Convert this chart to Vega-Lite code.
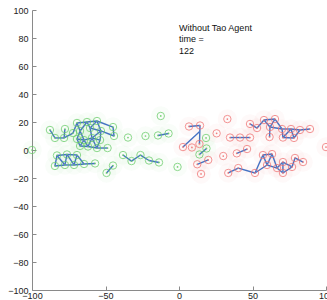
{
  "$schema": "https://vega.github.io/schema/vega-lite/v6.json",
  "width": 294,
  "height": 280,
  "autosize": "none",
  "padding": {"left": 32, "top": 10, "right": 1, "bottom": 10},
  "background": "white",
  "config": {
    "view": {"stroke": null},
    "font": "Liberation Sans",
    "axis": {
      "grid": false,
      "domainColor": "#8a8a8a",
      "tickColor": "#8a8a8a",
      "tickSize": -4,
      "labelFont": "Liberation Sans",
      "labelFontSize": 9,
      "labelColor": "#222",
      "labelFlush": false,
      "labelOverlap": false,
      "title": null
    }
  },
  "datasets": {
    "nodes": [
      {"c":"g","x":-87.8,"y":14.3},{"c":"g","x":-84.4,"y":8.6},{"c":"g","x":-77.6,"y":15},{"c":"g","x":-78.2,"y":8.6},
      {"c":"g","x":-72.1,"y":12.1},{"c":"g","x":-69.4,"y":19.3},{"c":"g","x":-62.6,"y":20},{"c":"g","x":-55.8,"y":20.7},
      {"c":"g","x":-67.3,"y":13.6},{"c":"g","x":-60.5,"y":15.7},{"c":"g","x":-53.1,"y":13.6},{"c":"g","x":-69.4,"y":7.9},
      {"c":"g","x":-64.6,"y":7.1},{"c":"g","x":-59.2,"y":8.6},{"c":"g","x":-53.7,"y":7.1},{"c":"g","x":-67.3,"y":2.9},
      {"c":"g","x":-61.9,"y":2.5},{"c":"g","x":-55.8,"y":1.4},{"c":"g","x":-48.6,"y":1.4},{"c":"g","x":-44.9,"y":16.4},
      {"c":"g","x":-44.2,"y":10},
      {"c":"g","x":-83,"y":-3.9},{"c":"g","x":-76.2,"y":-3.2},{"c":"g","x":-69.4,"y":-3.6},{"c":"g","x":-84.4,"y":-11.4},
      {"c":"g","x":-77.6,"y":-10.7},{"c":"g","x":-71.4,"y":-10.7},{"c":"g","x":-64.6,"y":-10},{"c":"g","x":-57.1,"y":-9.6},
      {"c":"g","x":-49.3,"y":-16.4},{"c":"g","x":-44.9,"y":-11.1},
      {"c":"g","x":-38.1,"y":-3.6},{"c":"g","x":-32.3,"y":-7.9},{"c":"g","x":-26.2,"y":-3.6},{"c":"g","x":-20.4,"y":-7.5},{"c":"g","x":-13.6,"y":-8.9},
      {"c":"g","x":-34.7,"y":8.9},{"c":"g","x":-22.8,"y":10},{"c":"g","x":-14.3,"y":10.4},{"c":"g","x":-7.1,"y":11.8},
      {"c":"g","x":-12.4,"y":24.3},{"c":"g","x":-1,"y":-12.1},{"c":"g","x":-100,"y":0},
      {"c":"g","x":18.4,"y":8.6},{"c":"g","x":18.7,"y":1.1},{"c":"g","x":13.9,"y":-3.2},
      {"c":"r","x":6.8,"y":16.8},{"c":"r","x":14.3,"y":17.5},{"c":"r","x":2.7,"y":2.1},{"c":"r","x":8.8,"y":1.8},{"c":"r","x":13.9,"y":4.3},
      {"c":"r","x":32.9,"y":22.1},{"c":"r","x":25.6,"y":11.9},{"c":"r","x":34.7,"y":8.9},{"c":"r","x":41.5,"y":8.9},{"c":"r","x":48.3,"y":8.9},
      {"c":"r","x":12.4,"y":-10.2},{"c":"r","x":19.9,"y":-7.1},{"c":"r","x":15,"y":-17.1},{"c":"r","x":30.1,"y":-4.3},
      {"c":"r","x":39.3,"y":-2.4},{"c":"r","x":46.3,"y":0.7},{"c":"r","x":33.5,"y":-16.4},
      {"c":"r","x":48.3,"y":18.6},{"c":"r","x":53.1,"y":15.7},{"c":"r","x":57.8,"y":21.4},{"c":"r","x":65.3,"y":22.1},
      {"c":"r","x":61.9,"y":16.4},{"c":"r","x":61.6,"y":9.3},{"c":"r","x":70.1,"y":15},{"c":"r","x":70.7,"y":8.9},
      {"c":"r","x":76.2,"y":15},{"c":"r","x":78.2,"y":8.6},{"c":"r","x":82.3,"y":14.3},{"c":"r","x":89.1,"y":15},
      {"c":"r","x":40.3,"y":-12.9},{"c":"r","x":51.7,"y":-16.4},{"c":"r","x":57.1,"y":-3.6},{"c":"r","x":63.3,"y":-2.9},
      {"c":"r","x":59.9,"y":-10.7},{"c":"r","x":66.7,"y":-12.9},{"c":"r","x":70.7,"y":-8.6},{"c":"r","x":70.7,"y":-16.4},
      {"c":"r","x":76.9,"y":-12.1},{"c":"r","x":78.9,"y":-5.7},{"c":"r","x":84.4,"y":-8.6},
      {"c":"r","x":100,"y":2.1}
    ],
    "edges": [
      {"e":1,"x":-87.8,"y":14.3},{"e":1,"x":-84.4,"y":8.6},
      {"e":2,"x":-84.4,"y":8.6},{"e":2,"x":-78.2,"y":8.6},
      {"e":3,"x":-77.6,"y":15},{"e":3,"x":-78.2,"y":8.6},
      {"e":4,"x":-78.2,"y":8.6},{"e":4,"x":-72.1,"y":12.1},
      {"e":5,"x":-72.1,"y":12.1},{"e":5,"x":-69.4,"y":19.3},
      {"e":6,"x":-69.4,"y":19.3},{"e":6,"x":-62.6,"y":20},
      {"e":7,"x":-62.6,"y":20},{"e":7,"x":-55.8,"y":20.7},
      {"e":8,"x":-69.4,"y":19.3},{"e":8,"x":-67.3,"y":13.6},
      {"e":9,"x":-62.6,"y":20},{"e":9,"x":-67.3,"y":13.6},
      {"e":10,"x":-62.6,"y":20},{"e":10,"x":-60.5,"y":15.7},
      {"e":11,"x":-55.8,"y":20.7},{"e":11,"x":-60.5,"y":15.7},
      {"e":12,"x":-55.8,"y":20.7},{"e":12,"x":-53.1,"y":13.6},
      {"e":13,"x":-60.5,"y":15.7},{"e":13,"x":-53.1,"y":13.6},
      {"e":14,"x":-67.3,"y":13.6},{"e":14,"x":-69.4,"y":7.9},
      {"e":15,"x":-67.3,"y":13.6},{"e":15,"x":-64.6,"y":7.1},
      {"e":16,"x":-69.4,"y":7.9},{"e":16,"x":-64.6,"y":7.1},
      {"e":17,"x":-60.5,"y":15.7},{"e":17,"x":-59.2,"y":8.6},
      {"e":18,"x":-64.6,"y":7.1},{"e":18,"x":-59.2,"y":8.6},
      {"e":19,"x":-53.1,"y":13.6},{"e":19,"x":-59.2,"y":8.6},
      {"e":20,"x":-53.1,"y":13.6},{"e":20,"x":-53.7,"y":7.1},
      {"e":21,"x":-59.2,"y":8.6},{"e":21,"x":-53.7,"y":7.1},
      {"e":22,"x":-69.4,"y":7.9},{"e":22,"x":-67.3,"y":2.9},
      {"e":23,"x":-64.6,"y":7.1},{"e":23,"x":-67.3,"y":2.9},
      {"e":24,"x":-64.6,"y":7.1},{"e":24,"x":-61.9,"y":2.5},
      {"e":25,"x":-59.2,"y":8.6},{"e":25,"x":-61.9,"y":2.5},
      {"e":26,"x":-59.2,"y":8.6},{"e":26,"x":-55.8,"y":1.4},
      {"e":27,"x":-53.7,"y":7.1},{"e":27,"x":-55.8,"y":1.4},
      {"e":28,"x":-67.3,"y":2.9},{"e":28,"x":-61.9,"y":2.5},
      {"e":29,"x":-61.9,"y":2.5},{"e":29,"x":-55.8,"y":1.4},
      {"e":30,"x":-55.8,"y":1.4},{"e":30,"x":-48.6,"y":1.4},
      {"e":31,"x":-55.8,"y":20.7},{"e":31,"x":-44.9,"y":16.4},
      {"e":32,"x":-44.9,"y":16.4},{"e":32,"x":-44.2,"y":10},
      {"e":33,"x":-53.1,"y":13.6},{"e":33,"x":-44.2,"y":10},
      {"e":40,"x":-83,"y":-3.9},{"e":40,"x":-76.2,"y":-3.2},
      {"e":41,"x":-76.2,"y":-3.2},{"e":41,"x":-69.4,"y":-3.6},
      {"e":42,"x":-83,"y":-3.9},{"e":42,"x":-84.4,"y":-11.4},
      {"e":43,"x":-83,"y":-3.9},{"e":43,"x":-77.6,"y":-10.7},
      {"e":44,"x":-76.2,"y":-3.2},{"e":44,"x":-77.6,"y":-10.7},
      {"e":45,"x":-76.2,"y":-3.2},{"e":45,"x":-71.4,"y":-10.7},
      {"e":46,"x":-69.4,"y":-3.6},{"e":46,"x":-71.4,"y":-10.7},
      {"e":47,"x":-69.4,"y":-3.6},{"e":47,"x":-64.6,"y":-10},
      {"e":48,"x":-84.4,"y":-11.4},{"e":48,"x":-77.6,"y":-10.7},
      {"e":49,"x":-77.6,"y":-10.7},{"e":49,"x":-71.4,"y":-10.7},
      {"e":50,"x":-71.4,"y":-10.7},{"e":50,"x":-64.6,"y":-10},
      {"e":51,"x":-64.6,"y":-10},{"e":51,"x":-57.1,"y":-9.6},
      {"e":60,"x":-49.3,"y":-16.4},{"e":60,"x":-44.9,"y":-11.1},
      {"e":61,"x":-38.1,"y":-3.6},{"e":61,"x":-32.3,"y":-7.9},
      {"e":62,"x":-32.3,"y":-7.9},{"e":62,"x":-26.2,"y":-3.6},
      {"e":63,"x":-26.2,"y":-3.6},{"e":63,"x":-20.4,"y":-7.5},
      {"e":64,"x":-20.4,"y":-7.5},{"e":64,"x":-13.6,"y":-8.9},
      {"e":65,"x":-14.3,"y":10.4},{"e":65,"x":-7.1,"y":11.8},
      {"e":66,"x":18.7,"y":1.1},{"e":66,"x":13.9,"y":-3.2},
      {"e":70,"x":6.8,"y":16.8},{"e":70,"x":14.3,"y":17.5},
      {"e":71,"x":14.3,"y":17.5},{"e":71,"x":13.9,"y":4.3},
      {"e":72,"x":2.7,"y":2.1},{"e":72,"x":13.9,"y":13},
      {"e":73,"x":34.7,"y":8.9},{"e":73,"x":41.5,"y":8.9},
      {"e":74,"x":41.5,"y":8.9},{"e":74,"x":48.3,"y":8.9},
      {"e":75,"x":12.4,"y":-10.2},{"e":75,"x":19.9,"y":-7.1},
      {"e":76,"x":39.3,"y":-2.4},{"e":76,"x":46.3,"y":0.7},
      {"e":77,"x":33.5,"y":-16.4},{"e":77,"x":40.3,"y":-12.9},
      {"e":80,"x":48.3,"y":18.6},{"e":80,"x":53.1,"y":15.7},
      {"e":81,"x":53.1,"y":15.7},{"e":81,"x":57.8,"y":21.4},
      {"e":82,"x":57.8,"y":21.4},{"e":82,"x":65.3,"y":22.1},
      {"e":83,"x":57.8,"y":21.4},{"e":83,"x":61.9,"y":16.4},
      {"e":84,"x":65.3,"y":22.1},{"e":84,"x":61.9,"y":16.4},
      {"e":85,"x":61.9,"y":16.4},{"e":85,"x":61.6,"y":9.3},
      {"e":86,"x":61.9,"y":16.4},{"e":86,"x":70.1,"y":15},
      {"e":87,"x":65.3,"y":22.1},{"e":87,"x":70.1,"y":15},
      {"e":88,"x":70.1,"y":15},{"e":88,"x":70.7,"y":8.9},
      {"e":89,"x":70.1,"y":15},{"e":89,"x":76.2,"y":15},
      {"e":90,"x":70.7,"y":8.9},{"e":90,"x":76.2,"y":15},
      {"e":91,"x":70.7,"y":8.9},{"e":91,"x":78.2,"y":8.6},
      {"e":92,"x":76.2,"y":15},{"e":92,"x":78.2,"y":8.6},
      {"e":93,"x":78.2,"y":8.6},{"e":93,"x":82.3,"y":14.3},
      {"e":94,"x":76.2,"y":15},{"e":94,"x":82.3,"y":14.3},
      {"e":95,"x":82.3,"y":14.3},{"e":95,"x":89.1,"y":15},
      {"e":100,"x":40.3,"y":-12.9},{"e":100,"x":51.7,"y":-16.4},
      {"e":101,"x":51.7,"y":-16.4},{"e":101,"x":57.1,"y":-3.6},
      {"e":102,"x":51.7,"y":-16.4},{"e":102,"x":59.9,"y":-10.7},
      {"e":103,"x":57.1,"y":-3.6},{"e":103,"x":63.3,"y":-2.9},
      {"e":104,"x":57.1,"y":-3.6},{"e":104,"x":59.9,"y":-10.7},
      {"e":105,"x":63.3,"y":-2.9},{"e":105,"x":59.9,"y":-10.7},
      {"e":106,"x":63.3,"y":-2.9},{"e":106,"x":66.7,"y":-12.9},
      {"e":107,"x":59.9,"y":-10.7},{"e":107,"x":66.7,"y":-12.9},
      {"e":108,"x":66.7,"y":-12.9},{"e":108,"x":70.7,"y":-8.6},
      {"e":109,"x":66.7,"y":-12.9},{"e":109,"x":70.7,"y":-16.4},
      {"e":110,"x":70.7,"y":-8.6},{"e":110,"x":70.7,"y":-16.4},
      {"e":111,"x":70.7,"y":-8.6},{"e":111,"x":76.9,"y":-12.1},
      {"e":112,"x":70.7,"y":-16.4},{"e":112,"x":76.9,"y":-12.1},
      {"e":113,"x":76.9,"y":-12.1},{"e":113,"x":78.9,"y":-5.7},
      {"e":114,"x":78.9,"y":-5.7},{"e":114,"x":84.4,"y":-8.6}
    ],
    "labels": [
      {"x":0,"y":87,"t":"Without Tao Agent"},
      {"x":0,"y":79,"t":"time ="},
      {"x":0,"y":71,"t":"122"}
    ]
  },
  "layer": [
    {
      "data": {"name": "nodes"},
      "mark": {"type": "circle", "size": 380, "opacity": 0.04, "clip": false},
      "encoding": {
        "x": {"field": "x", "type": "quantitative", "scale": {"domain": [-100, 100], "nice": false}, "axis": {"values": [-100, -50, 0, 50, 100], "tickCount": 20, "labelPadding": 5, "labelOverlap": false, "labelFlush": false}},
        "y": {"field": "y", "type": "quantitative", "scale": {"domain": [-100, 100], "nice": false}, "axis": {"values": [-100, -80, -60, -40, -20, 0, 20, 40, 60, 80, 100], "tickCount": 20, "labelPadding": 8, "labelOverlap": false, "labelFlush": false}},
        "color": {"field": "c", "type": "nominal", "scale": {"domain": ["g", "r"], "range": ["#66cc66", "#f07070"]}, "legend": null}
      }
    },
    {
      "data": {"name": "edges"},
      "mark": {"type": "line", "color": "#4472c4", "strokeWidth": 1.4},
      "encoding": {
        "x": {"field": "x", "type": "quantitative"},
        "y": {"field": "y", "type": "quantitative"},
        "detail": {"field": "e", "type": "nominal"}
      }
    },
    {
      "data": {"name": "nodes"},
      "mark": {"type": "point", "shape": "circle", "size": 55, "filled": false, "strokeWidth": 1, "opacity": 0.75},
      "encoding": {
        "x": {"field": "x", "type": "quantitative"},
        "y": {"field": "y", "type": "quantitative"},
        "color": {"field": "c", "type": "nominal", "legend": null}
      }
    },
    {
      "data": {"name": "nodes"},
      "mark": {"type": "circle", "size": 3, "opacity": 0.9},
      "encoding": {
        "x": {"field": "x", "type": "quantitative"},
        "y": {"field": "y", "type": "quantitative"},
        "color": {"field": "c", "type": "nominal", "legend": null}
      }
    },
    {
      "data": {"name": "labels"},
      "mark": {"type": "text", "align": "left", "baseline": "middle", "fontSize": 9, "font": "Liberation Sans", "color": "#111"},
      "encoding": {
        "x": {"field": "x", "type": "quantitative"},
        "y": {"field": "y", "type": "quantitative"},
        "text": {"field": "t"}
      }
    }
  ]
}
